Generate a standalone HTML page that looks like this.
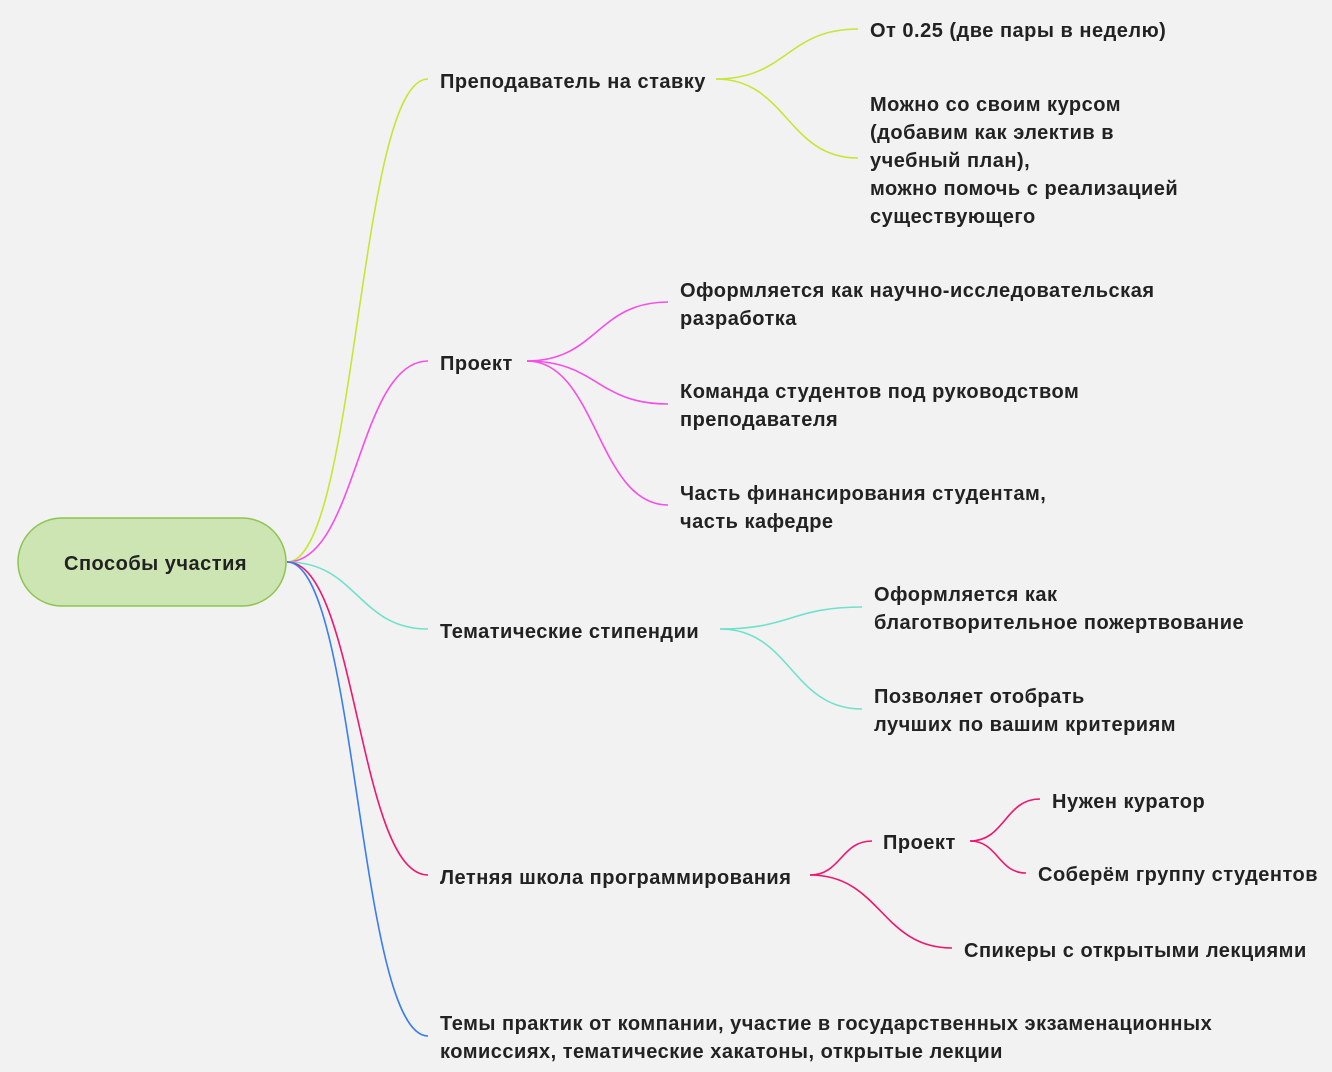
<!DOCTYPE html>
<html><head><meta charset="utf-8"><style>
html,body{margin:0;padding:0;background:#f2f2f2;}
#c{position:relative;width:1332px;height:1072px;overflow:hidden;background:#f2f2f2;font-family:"Liberation Sans","DejaVu Sans",sans-serif;font-weight:bold;font-size:20px;letter-spacing:0.5px;color:#222;}
.t{position:absolute;line-height:28px;white-space:nowrap;}
svg{position:absolute;left:0;top:0;}
</style></head><body><div id="c">
<svg width="1332" height="1072" fill="none" stroke-width="1.6">
<g stroke="#c6e635">
<path d="M287 562 C357 562 358 79 428 79"/>
<path d="M716 79 C787 79 787 29 858 29"/>
<path d="M716 79 C787 79 787 158 858 158"/>
</g>
<g stroke="#f64ee8">
<path d="M287 562 C357 562 358 361 428 361"/>
<path d="M527 361 C597 361 597 302 668 302"/>
<path d="M527 361 C597 361 597 404 668 404"/>
<path d="M527 361 C597 361 597 505 668 505"/>
</g>
<g stroke="#6fe2cc">
<path d="M287 562 C357 562 358 629 428 629"/>
<path d="M720 629 C791 629 791 607 862 607"/>
<path d="M720 629 C791 629 791 709 862 709"/>
</g>
<g stroke="#f0156e">
<path d="M287 562 C357 562 358 875 428 875"/>
<path d="M810 875 C841 875 841 841 872 841"/>
<path d="M970 841 C1005 841 1005 799 1040 799"/>
<path d="M970 841 C998 841 998 873 1026 873"/>
<path d="M810 875 C881 875 881 948 952 948"/>
</g>
<g stroke="#3a7df0">
<path d="M287 562 C357 562 358 1036 428 1036"/>
</g>
<rect x="18" y="518" width="268" height="88" rx="44" fill="#cde5b3" stroke="#8dc552" stroke-width="1.5"/>
</svg>
<div class="t" style="left:64px;top:550px">Способы участия</div>
<div class="t" style="left:440px;top:68px">Преподаватель на ставку</div>
<div class="t" style="left:870px;top:17px">От 0.25 (две пары в неделю)</div>
<div class="t" style="left:870px;top:91px">Можно со своим курсом<br>(добавим как электив в<br>учебный план),<br>можно помочь с реализацией<br>существующего</div>
<div class="t" style="left:440px;top:350px">Проект</div>
<div class="t" style="left:680px;top:277px">Оформляется как научно-исследовательская<br>разработка</div>
<div class="t" style="left:680px;top:378px">Команда студентов под руководством<br>преподавателя</div>
<div class="t" style="left:680px;top:480px">Часть финансирования студентам,<br>часть кафедре</div>
<div class="t" style="left:440px;top:618px">Тематические стипендии</div>
<div class="t" style="left:874px;top:581px">Оформляется как<br>благотворительное пожертвование</div>
<div class="t" style="left:874px;top:683px">Позволяет отобрать<br>лучших по вашим критериям</div>
<div class="t" style="left:440px;top:864px">Летняя школа программирования</div>
<div class="t" style="left:883px;top:829px">Проект</div>
<div class="t" style="left:1052px;top:788px">Нужен куратор</div>
<div class="t" style="left:1038px;top:861px">Соберём группу студентов</div>
<div class="t" style="left:964px;top:937px">Спикеры с открытыми лекциями</div>
<div class="t" style="left:440px;top:1010px">Темы практик от компании, участие в государственных экзаменационных<br>комиссиях, тематические хакатоны, открытые лекции</div>
</div></body></html>
